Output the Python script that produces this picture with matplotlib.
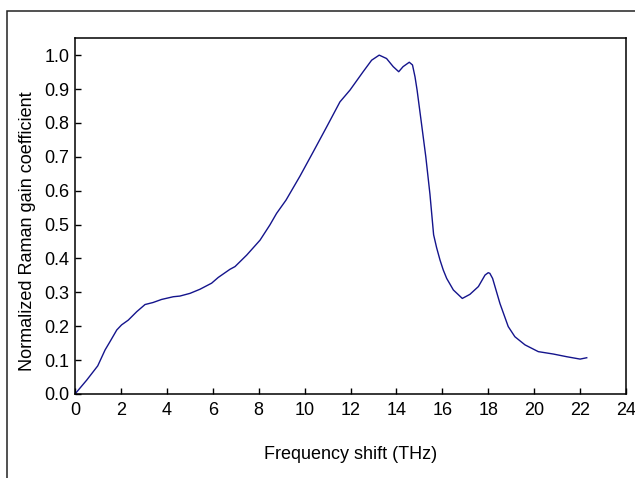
import matplotlib
matplotlib.use("Agg")
import matplotlib.pyplot as plt
from matplotlib.patches import Rectangle

# frequency shift (THz) and normalized Raman gain
freq = [0.0, 0.51, 0.99, 1.31, 1.52, 1.82, 2.03, 2.32, 2.69, 3.05, 3.4, 3.77,
        4.28, 4.57, 5.01, 5.44, 5.95, 6.24, 6.75, 6.97, 7.48, 8.06, 8.49, 8.78,
        9.19, 9.80, 10.38, 10.96, 11.54, 11.98, 12.55, 12.92, 13.25, 13.57,
        13.86, 14.1, 14.29, 14.56, 14.70, 14.81, 14.90, 15.09, 15.28, 15.46, 15.62,
        15.75, 15.90, 16.04, 16.19, 16.48, 16.87, 17.20, 17.57, 17.86, 18.00, 18.07,
        18.19, 18.51, 18.87, 19.16, 19.60, 20.18, 20.83, 21.42, 22.0, 22.29]
gain = [0.0, 0.041, 0.083, 0.13, 0.154, 0.189, 0.204, 0.218, 0.243, 0.264, 0.27, 0.279,
        0.287, 0.289, 0.297, 0.309, 0.327, 0.344, 0.368, 0.376, 0.410, 0.454, 0.499, 0.533,
        0.572, 0.643, 0.715, 0.788, 0.862, 0.897, 0.951, 0.985, 1.0, 0.99,
        0.966, 0.951, 0.966, 0.979, 0.971, 0.936, 0.897, 0.799, 0.700, 0.590, 0.47,
        0.432, 0.395, 0.366, 0.341, 0.307, 0.282, 0.294, 0.317, 0.351, 0.358, 0.356,
        0.341, 0.267, 0.199, 0.169, 0.145, 0.125, 0.118, 0.110, 0.103, 0.107]

xticks = list(range(0, 25, 2))
yticks = [i / 10 for i in range(11)]

plt.rcParams['font.family'] = ['Liberation Sans', 'DejaVu Sans']

fig = plt.figure(figsize=(6.35, 4.78), dpi=100)
ax = fig.add_axes([75 / 635, 1 - 394 / 478, 551 / 635, (394 - 37.5) / 478])

ax.plot(freq, gain, color='#14148c', lw=1.0)

ax.set_xlim(0, 24)
ax.set_ylim(0, 1.052)
ax.set_xticks(xticks)
ax.set_yticks(yticks)
ax.set_yticklabels([f"{v:.1f}" for v in yticks])
ax.tick_params(direction='in', length=4, width=1, labelsize=13, color='black')
ax.tick_params(axis='x', pad=6)
ax.tick_params(axis='y', pad=4)
for s in ax.spines.values():
    s.set_linewidth(1.1)

ax.set_xlabel("Frequency shift (THz)", fontsize=13, labelpad=19)
ax.set_ylabel("Normalized Raman gain coefficient", fontsize=13, labelpad=6)
ax.yaxis.label.set_y(0.457)

# outer frame, running off the right and bottom edges like the original
fig.patches.append(Rectangle((6.5, -20), 700, 478 - 10.5 + 20, transform=None,
                             fill=False, edgecolor='#222222', linewidth=1.1))

fig.savefig("out.png", dpi=100)
